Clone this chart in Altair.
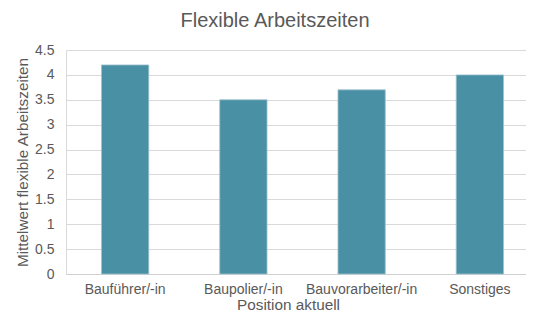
import altair as alt
import pandas as pd

categories = ["Bauführer/-in", "Baupolier/-in", "Bauvorarbeiter/-in", "Sonstiges"]
values = [4.2, 3.5, 3.7, 4.0]
y_ticks = [0, 0.5, 1, 1.5, 2, 2.5, 3, 3.5, 4, 4.5]

df = pd.DataFrame({"Position": categories, "Mittelwert": values})

FONT = "Liberation Sans"
GREY = "#595959"

chart = alt.Chart(df).mark_bar(
    color="#4A90A4", stroke="#9FC3CF", strokeWidth=0.8
).encode(
    x=alt.X("Position:N", sort=categories,
            scale=alt.Scale(paddingInner=0.6, paddingOuter=0.3, range=[0, 473]),
            axis=alt.Axis(title="Position aktuell", labelAngle=0, ticks=False,
                          labelPadding=8,
                          domainColor="#D0D0D0", labelColor=GREY, titleColor=GREY,
                          labelFontSize=14, titleFontSize=15.3,
                          labelFont=FONT, titleFont=FONT, titleFontWeight="normal",
                          titleX=222, titleY=35, titleAlign="center",
                          titleBaseline="alphabetic")),
    y=alt.Y("Mittelwert:Q", scale=alt.Scale(domain=[0, 4.5], nice=False),
            axis=alt.Axis(title="Mittelwert flexible Arbeitszeiten", values=y_ticks,
                          ticks=False, labelPadding=12, format="~g",
                          domainColor="#D9D9D9", gridColor="#D9D9D9",
                          labelColor=GREY, titleColor=GREY,
                          labelFontSize=14, titleFontSize=15.3,
                          labelFont=FONT, titleFont=FONT, titleFontWeight="normal",
                          titleX=-44, titleY=112, titleAngle=-90,
                          titleAlign="center", titleBaseline="middle")),
).properties(
    width=460, height=224,
    title=alt.TitleParams("Flexible Arbeitszeiten", fontSize=20, font=FONT,
                          color=GREY, fontWeight="normal", anchor="middle",
                          dx=-21, offset=12),
    autosize=alt.AutoSizeParams(type="none"),
    padding={"left": 58, "top": 42, "right": 0, "bottom": 38},
).configure_view(stroke=None)

chart.save("out.html", embed_options={"renderer": "svg", "actions": False})
